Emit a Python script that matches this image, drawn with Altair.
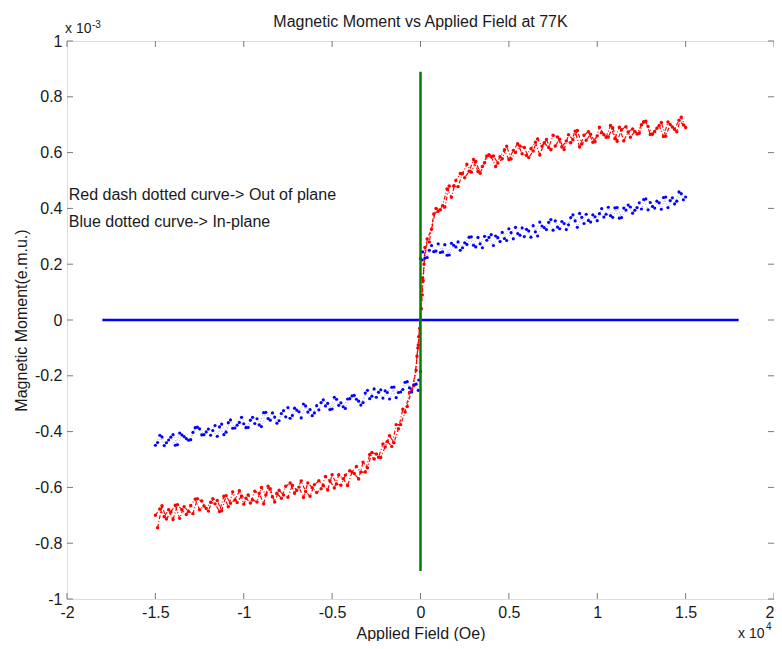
import altair as alt
import pandas as pd

TITLE = "Magnetic Moment vs Applied Field at 77K"
X_TITLE = "Applied Field (Oe)"
Y_TITLE = "Magnetic Moment(e.m.u.)"
NOTE_RED = "Red dash dotted curve-> Out of plane"
NOTE_BLUE = "Blue dotted curve-> In-plane"

# field in units of 1e4 Oe, moment in units of 1e-3 emu
FIELD_A = [round(0.025 * i, 4) for i in range(1, 61)]          # sweep A field grid
FIELD_B = [round(0.025 * i - 0.0125, 4) for i in range(1, 61)]  # sweep B field grid

RED_NEAR_X = [0.0, 0.005, 0.01, 0.015, 0.02]
RED_NEAR_POS = [0.0, 0.04, 0.09, 0.14, 0.20]
RED_NEAR_NEG = [0.0, -0.03, -0.06, -0.10, -0.13]

RED_POS_A = [0.26, 0.28, 0.38, 0.39, 0.41, 0.47, 0.44, 0.50, 0.525, 0.51,
             0.533, 0.575, 0.532, 0.55, 0.588, 0.585, 0.55, 0.585, 0.61, 0.575,
             0.608, 0.632, 0.596, 0.59, 0.614, 0.637, 0.591, 0.635, 0.618, 0.662,
             0.656, 0.62, 0.642, 0.635, 0.677, 0.62, 0.662, 0.675, 0.637, 0.66,
             0.672, 0.655, 0.697, 0.65, 0.691, 0.642, 0.674, 0.685, 0.667, 0.70,
             0.712, 0.665, 0.676, 0.697, 0.658, 0.71, 0.692, 0.675, 0.727, 0.69]
RED_POS_B = [0.15, 0.29, 0.325, 0.40, 0.395, 0.405, 0.48, 0.48, 0.478, 0.525,
             0.558, 0.53, 0.568, 0.526, 0.564, 0.592, 0.588, 0.563, 0.578, 0.623,
             0.577, 0.60, 0.624, 0.618, 0.582, 0.606, 0.649, 0.623, 0.647, 0.61,
             0.624, 0.648, 0.611, 0.664, 0.646, 0.679, 0.631, 0.644, 0.666, 0.639,
             0.691, 0.664, 0.656, 0.689, 0.641, 0.682, 0.693, 0.655, 0.676, 0.669,
             0.711, 0.694, 0.666, 0.687, 0.708, 0.659, 0.701, 0.684, 0.716, 0.699]
RED_NEG_A = [-0.18, -0.25, -0.31, -0.32, -0.39, -0.44, -0.415, -0.455, -0.493, -0.48,
             -0.475, -0.53, -0.51, -0.57, -0.55, -0.54, -0.556, -0.592, -0.588, -0.555,
             -0.609, -0.593, -0.576, -0.59, -0.632, -0.615, -0.577, -0.61, -0.592, -0.635,
             -0.627, -0.61, -0.652, -0.605, -0.627, -0.60, -0.652, -0.645, -0.627, -0.66,
             -0.612, -0.645, -0.657, -0.63, -0.684, -0.647, -0.641, -0.685, -0.667, -0.68,
             -0.642, -0.665, -0.697, -0.68, -0.662, -0.715, -0.68, -0.705, -0.677, -0.70]
RED_NEG_B = [-0.09, -0.235, -0.26, -0.33, -0.375, -0.375, -0.453, -0.435, -0.444, -0.492,
             -0.498, -0.482, -0.545, -0.545, -0.525, -0.545, -0.593, -0.569, -0.555, -0.602,
             -0.577, -0.561, -0.605, -0.618, -0.601, -0.584, -0.636, -0.599, -0.621, -0.584,
             -0.596, -0.639, -0.621, -0.634, -0.596, -0.659, -0.621, -0.614, -0.656, -0.639,
             -0.631, -0.654, -0.616, -0.669, -0.632, -0.686, -0.659, -0.653, -0.676, -0.649,
             -0.641, -0.694, -0.686, -0.669, -0.711, -0.664, -0.688, -0.713, -0.666, -0.745]

BLUE_NEAR_X = [0.0, 0.01]
BLUE_NEAR_POS = [0.22, 0.215]
BLUE_NEAR_NEG = [-0.185, -0.215]

BLUE_POS_A = [0.222, 0.25, 0.245, 0.273, 0.244, 0.232, 0.275, 0.262, 0.25, 0.277,
              0.297, 0.268, 0.296, 0.259, 0.286, 0.306, 0.301, 0.281, 0.292, 0.327,
              0.291, 0.31, 0.33, 0.325, 0.297, 0.316, 0.351, 0.331, 0.35, 0.322,
              0.333, 0.353, 0.324, 0.367, 0.355, 0.382, 0.346, 0.357, 0.377, 0.356,
              0.399, 0.379, 0.374, 0.402, 0.365, 0.401, 0.412, 0.383, 0.403, 0.398,
              0.434, 0.421, 0.401, 0.42, 0.439, 0.403, 0.438, 0.426, 0.453, 0.441]
BLUE_POS_B = [0.244, 0.224, 0.267, 0.247, 0.242, 0.27, 0.233, 0.268, 0.28, 0.259,
              0.271, 0.298, 0.262, 0.273, 0.30, 0.296, 0.267, 0.295, 0.314, 0.285,
              0.313, 0.332, 0.304, 0.299, 0.319, 0.338, 0.301, 0.337, 0.324, 0.36,
              0.355, 0.327, 0.346, 0.341, 0.377, 0.332, 0.368, 0.379, 0.351, 0.37,
              0.381, 0.369, 0.404, 0.368, 0.403, 0.367, 0.394, 0.405, 0.393, 0.42,
              0.432, 0.395, 0.407, 0.426, 0.397, 0.441, 0.428, 0.416, 0.459, 0.431]
BLUE_NEG_A = [-0.23, -0.258, -0.221, -0.249, -0.26, -0.24, -0.283, -0.254, -0.25, -0.277,
              -0.273, -0.252, -0.296, -0.291, -0.27, -0.282, -0.317, -0.297, -0.284, -0.319,
              -0.299, -0.286, -0.322, -0.333, -0.321, -0.308, -0.351, -0.323, -0.342, -0.314,
              -0.325, -0.361, -0.348, -0.359, -0.331, -0.382, -0.354, -0.349, -0.385, -0.372,
              -0.367, -0.387, -0.358, -0.402, -0.373, -0.417, -0.396, -0.391, -0.411, -0.39,
              -0.386, -0.429, -0.425, -0.412, -0.447, -0.411, -0.43, -0.45, -0.413, -0.449]
BLUE_NEG_B = [-0.252, -0.232, -0.243, -0.223, -0.258, -0.278, -0.241, -0.26, -0.28, -0.259,
              -0.247, -0.282, -0.262, -0.305, -0.284, -0.272, -0.283, -0.311, -0.306, -0.277,
              -0.321, -0.308, -0.296, -0.307, -0.343, -0.33, -0.301, -0.329, -0.316, -0.352,
              -0.347, -0.335, -0.37, -0.333, -0.353, -0.332, -0.376, -0.371, -0.359, -0.386,
              -0.349, -0.377, -0.388, -0.368, -0.411, -0.383, -0.378, -0.413, -0.401, -0.412,
              -0.384, -0.403, -0.431, -0.418, -0.405, -0.449, -0.42, -0.44, -0.419, -0.439]

BASE_X = [-1.8, 1.8]
BASE_Y = [0.0, 0.0]
GREEN_X = [0.0, 0.0]
GREEN_Y = [-0.9, 0.89]

X_TICKS = [-2, -1.5, -1, -0.5, 0, 0.5, 1, 1.5, 2]
Y_TICKS = [-1, -0.8, -0.6, -0.4, -0.2, 0, 0.2, 0.4, 0.6, 0.8, 1]

FONT = "Liberation Sans"
TXT = "#1a1a1a"
AX = "#7a7a7a"
FS = 16
W, H = 707, 558

# ---- tables ----
red_rows = []
for x, y in zip(RED_NEAR_X, RED_NEAR_POS):
    red_rows.append((x, y, "A"))
for x, y in zip(RED_NEAR_X[1:], RED_NEAR_NEG[1:]):
    red_rows.append((-x, y, "A"))
for x, y in zip(FIELD_A, RED_POS_A):
    red_rows.append((x, y, "A"))
for x, y in zip(FIELD_A, RED_NEG_A):
    red_rows.append((-x, y, "A"))
for x, y in zip(FIELD_B, RED_POS_B):
    red_rows.append((x, y, "B"))
for x, y in zip(FIELD_B, RED_NEG_B):
    red_rows.append((-x, y, "B"))
red_df = pd.DataFrame(red_rows, columns=["field", "moment", "sweep"])

blue_rows = []
for x, y in zip(BLUE_NEAR_X, BLUE_NEAR_POS):
    blue_rows.append((x, y, "posA"))
for x, y in zip(BLUE_NEAR_X, BLUE_NEAR_NEG):
    blue_rows.append((-x, y, "negA"))
for x, y in zip(FIELD_A, BLUE_POS_A):
    blue_rows.append((x, y, "posA"))
for x, y in zip(FIELD_A, BLUE_NEG_A):
    blue_rows.append((-x, y, "negA"))
for x, y in zip(FIELD_B, BLUE_POS_B):
    blue_rows.append((x, y, "posB"))
for x, y in zip(FIELD_B, BLUE_NEG_B):
    blue_rows.append((-x, y, "negB"))
blue_df = pd.DataFrame(blue_rows, columns=["field", "moment", "sweep"])

base_df = pd.DataFrame({"field": BASE_X, "moment": BASE_Y})
green_df = pd.DataFrame({"field": GREEN_X, "moment": GREEN_Y})
xt_df = pd.DataFrame({"field": X_TICKS})
yt_df = pd.DataFrame({"moment": Y_TICKS})

xscale = alt.Scale(domain=[-2, 2], nice=False, zero=False)
yscale = alt.Scale(domain=[-1, 1], nice=False, zero=False)

HYPHEN_LABEL = ("datum.value < 0 ? '-' + format(-datum.value, '.1~f') "
                ": format(datum.value, '.1~f')")

x_axis = alt.Axis(values=X_TICKS, labelExpr=HYPHEN_LABEL, ticks=False, domain=False,
                  grid=False, labelFont=FONT, labelFontSize=FS, labelColor=TXT,
                  labelPadding=5, labelFlush=False,
                  labelAlign={"condition": {"test": "datum.value >= 2", "value": "right"},
                              "value": "center"},
                  title=X_TITLE, titleFont=FONT, titleFontSize=FS,
                  titleFontWeight="normal", titleColor=TXT, titlePadding=5)
y_axis = alt.Axis(values=Y_TICKS, labelExpr=HYPHEN_LABEL, ticks=False, domain=False,
                  grid=False, labelFont=FONT, labelFontSize=FS, labelColor=TXT,
                  labelPadding=5, labelFlush=False, title=Y_TITLE, titleFont=FONT,
                  titleFontSize=FS, titleFontWeight="normal", titleColor=TXT,
                  titlePadding=5)

X = alt.X("field:Q", scale=xscale, axis=x_axis)
Y = alt.Y("moment:Q", scale=yscale, axis=y_axis)

base = alt.Chart(base_df).mark_line(color="#0000ff", strokeWidth=2.5).encode(x=X, y=Y)
green = alt.Chart(green_df).mark_line(color="#007f00", strokeWidth=2.5).encode(x=X, y=Y)

red_line = alt.Chart(red_df).mark_line(color="#ff0000", strokeWidth=1.2,
                                       strokeDash=[4, 2, 1, 2]).encode(
    x=X, y=Y, detail="sweep:N")
red_pts = alt.Chart(red_df).mark_circle(color="#ff0000", size=12, opacity=1).encode(x=X, y=Y)

blue_line = alt.Chart(blue_df).mark_line(color="#0000ff", strokeWidth=0.8, opacity=0.45,
                                         strokeDash=[1, 2]).encode(
    x=X, y=Y, detail="sweep:N")
blue_pts = alt.Chart(blue_df).mark_circle(color="#0000ff", size=10, opacity=1).encode(x=X, y=Y)

TL = 6
xt_bot = alt.Chart(xt_df).mark_rule(color=AX, strokeWidth=1).encode(
    x=alt.X("field:Q", scale=xscale), y=alt.value(H), y2=alt.value(H - TL))
xt_top = alt.Chart(xt_df).mark_rule(color=AX, strokeWidth=1).encode(
    x=alt.X("field:Q", scale=xscale), y=alt.value(0), y2=alt.value(TL))
yt_left = alt.Chart(yt_df).mark_rule(color=AX, strokeWidth=1).encode(
    y=alt.Y("moment:Q", scale=yscale), x=alt.value(0), x2=alt.value(TL))
yt_right = alt.Chart(yt_df).mark_rule(color=AX, strokeWidth=1).encode(
    y=alt.Y("moment:Q", scale=yscale), x=alt.value(W), x2=alt.value(W - TL))

notes_df = pd.DataFrame({"field": [-1.99, -1.99], "moment": [0.448, 0.35],
                         "label": [NOTE_RED, NOTE_BLUE]})
notes = alt.Chart(notes_df).mark_text(align="left", baseline="middle", font=FONT,
                                      fontSize=FS, color=TXT).encode(
    x=alt.X("field:Q", scale=xscale), y=alt.Y("moment:Q", scale=yscale), text="label:N")

title_df = pd.DataFrame({"t": [TITLE]})
mult_df = pd.DataFrame({"t": ["x 10"]})
exp_y_df = pd.DataFrame({"t": ["-3"]})
exp_x_df = pd.DataFrame({"t": ["4"]})

title = alt.Chart(title_df).mark_text(align="center", baseline="middle", font=FONT,
                                      fontSize=FS, color=TXT).encode(
    text="t:N", x=alt.value(W / 2), y=alt.value(-19))
ymult = alt.Chart(mult_df).mark_text(align="left", baseline="alphabetic", font=FONT,
                                     fontSize=14, color=TXT).encode(
    text="t:N", x=alt.value(-2), y=alt.value(-8))
yexp = alt.Chart(exp_y_df).mark_text(align="left", baseline="alphabetic", font=FONT,
                                     fontSize=10, color=TXT).encode(
    text="t:N", x=alt.value(25), y=alt.value(-13))
xmult = alt.Chart(mult_df).mark_text(align="left", baseline="alphabetic", font=FONT,
                                     fontSize=14, color=TXT).encode(
    text="t:N", x=alt.value(671), y=alt.value(H + 39))
xexp = alt.Chart(exp_x_df).mark_text(align="left", baseline="alphabetic", font=FONT,
                                     fontSize=10, color=TXT).encode(
    text="t:N", x=alt.value(699), y=alt.value(H + 31))

chart = alt.layer(
    base, red_line, red_pts, blue_line, blue_pts, green,
    xt_bot, xt_top, yt_left, yt_right, notes, title, ymult, yexp, xmult, xexp
).properties(
    width=W, height=H,
    autosize=alt.AutoSizeParams(type="none"),
    padding={"left": 59, "top": 33, "right": 0, "bottom": 42},
).configure_view(stroke=AX, strokeWidth=1).configure(background="white")

chart.save("out.html", embed_options={"renderer": "svg", "actions": False})
